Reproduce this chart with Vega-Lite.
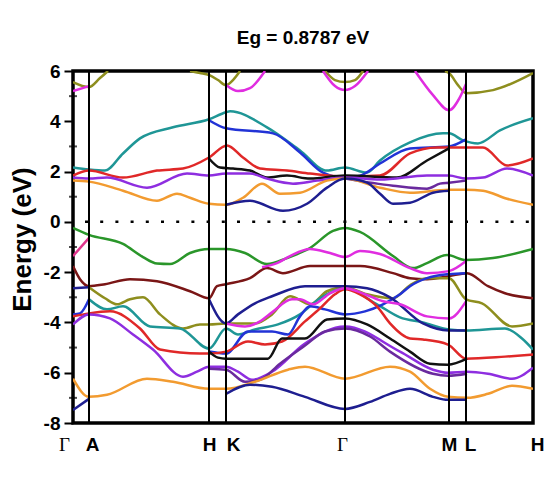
{
"$schema": "https://vega.github.io/schema/vega-lite/v6.json",
"width": 460, "height": 352,
"autosize": {"type": "none"},
"padding": {"left": 73, "top": 71, "right": 21, "bottom": 57},
"background": "white",
"config": {"view": {"stroke": "black", "strokeWidth": 3.5}, "font": "Liberation Sans"},
"title": {"text": "Eg = 0.8787 eV", "fontSize": 19, "fontWeight": "bold", "font": "Liberation Sans", "color": "black", "anchor": "middle", "offset": 14},
"datasets": {
"bands": [
{"b":"ct","h":"teal","k":0,"e":2.16},{"b":"ct","h":"teal","k":16,"e":2.08},{"b":"ct","h":"teal","k":32,"e":2.04},{"b":"ct","h":"teal","k":50,"e":2.72},{"b":"ct","h":"teal","k":67,"e":3.32},{"b":"ct","h":"teal","k":100,"e":3.76},{"b":"ct","h":"teal","k":136,"e":4.08},{"b":"ct","h":"teal","k":153,"e":4.36},{"b":"ct","h":"teal","k":157,"e":4.4},{"b":"ct","h":"teal","k":194,"e":3.76},{"b":"ct","h":"teal","k":227,"e":2.84},{"b":"ct","h":"teal","k":254,"e":2.04},{"b":"ct","h":"teal","k":272,"e":2.16},{"b":"ct","h":"teal","k":294,"e":1.96},{"b":"ct","h":"teal","k":307,"e":2.44},{"b":"ct","h":"teal","k":337,"e":3.16},{"b":"ct","h":"teal","k":370,"e":3.52},{"b":"ct","h":"teal","k":376,"e":3.52},{"b":"ct","h":"teal","k":390,"e":3.24},{"b":"ct","h":"teal","k":405,"e":3.12},{"b":"ct","h":"teal","k":427,"e":3.64},{"b":"ct","h":"teal","k":460,"e":4.12},
{"b":"cb","h":"blue","k":136,"e":4.04},{"b":"cb","h":"blue","k":153,"e":3.72},{"b":"cb","h":"blue","k":200,"e":3.52},{"b":"cb","h":"blue","k":227,"e":2.76},{"b":"cb","h":"blue","k":250,"e":1.96},{"b":"cb","h":"blue","k":272,"e":1.76},{"b":"cb","h":"blue","k":287,"e":1.84},{"b":"cb","h":"blue","k":307,"e":2.32},{"b":"cb","h":"blue","k":337,"e":2.92},{"b":"cb","h":"blue","k":376,"e":3.0},{"b":"cb","h":"blue","k":393,"e":3.28},
{"b":"cr","h":"red","k":0,"e":1.84},{"b":"cr","h":"red","k":16,"e":2.04},{"b":"cr","h":"red","k":50,"e":1.76},{"b":"cr","h":"red","k":84,"e":2.04},{"b":"cr","h":"red","k":110,"e":2.12},{"b":"cr","h":"red","k":136,"e":2.56},{"b":"cr","h":"red","k":154,"e":3.04},{"b":"cr","h":"red","k":170,"e":2.56},{"b":"cr","h":"red","k":187,"e":2.12},{"b":"cr","h":"red","k":214,"e":2.04},{"b":"cr","h":"red","k":237,"e":1.92},{"b":"cr","h":"red","k":272,"e":1.8},{"b":"cr","h":"red","k":307,"e":1.84},{"b":"cr","h":"red","k":337,"e":2.72},{"b":"cr","h":"red","k":364,"e":2.96},{"b":"cr","h":"red","k":376,"e":2.96},{"b":"cr","h":"red","k":393,"e":2.96},{"b":"cr","h":"red","k":410,"e":2.96},{"b":"cr","h":"red","k":434,"e":2.24},{"b":"cr","h":"red","k":460,"e":2.52},
{"b":"ck","h":"black","k":136,"e":2.52},{"b":"ck","h":"black","k":147,"e":2.16},{"b":"ck","h":"black","k":160,"e":2.12},{"b":"ck","h":"black","k":177,"e":2.04},{"b":"ck","h":"black","k":194,"e":1.76},{"b":"ck","h":"black","k":214,"e":1.84},{"b":"ck","h":"black","k":237,"e":1.72},{"b":"ck","h":"black","k":272,"e":1.84},{"b":"ck","h":"black","k":324,"e":1.76},{"b":"ck","h":"black","k":354,"e":2.44},{"b":"ck","h":"black","k":376,"e":2.92},
{"b":"cp","h":"purple","k":0,"e":1.76},{"b":"cp","h":"purple","k":16,"e":1.72},{"b":"cp","h":"purple","k":34,"e":1.76},{"b":"cp","h":"purple","k":74,"e":1.36},{"b":"cp","h":"purple","k":114,"e":1.92},{"b":"cp","h":"purple","k":136,"e":1.84},{"b":"cp","h":"purple","k":153,"e":1.92},{"b":"cp","h":"purple","k":177,"e":1.92},{"b":"cp","h":"purple","k":194,"e":1.72},{"b":"cp","h":"purple","k":220,"e":1.52},{"b":"cp","h":"purple","k":244,"e":1.64},{"b":"cp","h":"purple","k":272,"e":1.76},{"b":"cp","h":"purple","k":307,"e":1.68},{"b":"cp","h":"purple","k":354,"e":1.84},{"b":"cp","h":"purple","k":376,"e":1.84},{"b":"cp","h":"purple","k":393,"e":1.72},{"b":"cp","h":"purple","k":410,"e":1.76},{"b":"cp","h":"purple","k":434,"e":2.12},{"b":"cp","h":"purple","k":460,"e":1.84},
{"b":"cdp","h":"dpurple","k":272,"e":1.72},{"b":"cdp","h":"dpurple","k":320,"e":1.44},{"b":"cdp","h":"dpurple","k":354,"e":1.32},{"b":"cdp","h":"dpurple","k":367,"e":1.52},{"b":"cdp","h":"dpurple","k":376,"e":1.56},{"b":"cdp","h":"dpurple","k":393,"e":1.64},
{"b":"co","h":"orange","k":0,"e":1.64},{"b":"co","h":"orange","k":16,"e":1.6},{"b":"co","h":"orange","k":50,"e":1.24},{"b":"co","h":"orange","k":84,"e":0.84},{"b":"co","h":"orange","k":104,"e":1.12},{"b":"co","h":"orange","k":117,"e":0.96},{"b":"co","h":"orange","k":136,"e":0.72},{"b":"co","h":"orange","k":153,"e":0.68},{"b":"co","h":"orange","k":170,"e":0.96},{"b":"co","h":"orange","k":189,"e":1.52},{"b":"co","h":"orange","k":207,"e":1.12},{"b":"co","h":"orange","k":227,"e":1.16},{"b":"co","h":"orange","k":254,"e":1.64},{"b":"co","h":"orange","k":272,"e":1.72},{"b":"co","h":"orange","k":307,"e":1.36},{"b":"co","h":"orange","k":337,"e":1.16},{"b":"co","h":"orange","k":376,"e":1.28},{"b":"co","h":"orange","k":393,"e":1.28},{"b":"co","h":"orange","k":410,"e":1.24},{"b":"co","h":"orange","k":434,"e":0.92},{"b":"co","h":"orange","k":460,"e":0.68},
{"b":"cn","h":"navy","k":153,"e":0.68},{"b":"cn","h":"navy","k":177,"e":0.84},{"b":"cn","h":"navy","k":210,"e":0.44},{"b":"cn","h":"navy","k":234,"e":0.72},{"b":"cn","h":"navy","k":254,"e":1.36},{"b":"cn","h":"navy","k":272,"e":1.72},{"b":"cn","h":"navy","k":294,"e":1.56},{"b":"cn","h":"navy","k":307,"e":1.12},{"b":"cn","h":"navy","k":320,"e":0.72},{"b":"cn","h":"navy","k":337,"e":0.76},{"b":"cn","h":"navy","k":360,"e":1.16},{"b":"cn","h":"navy","k":376,"e":1.24},
{"b":"col1","h":"olive","k":0,"e":5.56},{"b":"col1","h":"olive","k":16,"e":5.36},{"b":"col1","h":"olive","k":27,"e":5.72},{"b":"col1","h":"olive","k":35,"e":6.0},
{"b":"col2","h":"olive","k":117,"e":6.0},{"b":"col2","h":"olive","k":127,"e":5.92},{"b":"col2","h":"olive","k":136,"e":5.84},{"b":"col2","h":"olive","k":145,"e":5.64},{"b":"col2","h":"olive","k":153,"e":5.44},{"b":"col2","h":"olive","k":160,"e":5.64},{"b":"col2","h":"olive","k":167,"e":6.0},
{"b":"col3","h":"olive","k":252,"e":6.0},{"b":"col3","h":"olive","k":262,"e":5.64},{"b":"col3","h":"olive","k":272,"e":5.56},{"b":"col3","h":"olive","k":282,"e":5.64},{"b":"col3","h":"olive","k":290,"e":6.0},
{"b":"col4","h":"olive","k":372,"e":6.0},{"b":"col4","h":"olive","k":376,"e":5.92},{"b":"col4","h":"olive","k":385,"e":5.44},{"b":"col4","h":"olive","k":393,"e":5.12},{"b":"col4","h":"olive","k":420,"e":5.24},{"b":"col4","h":"olive","k":460,"e":5.92},
{"b":"cm1","h":"magenta","k":0,"e":5.2},{"b":"cm1","h":"magenta","k":16,"e":5.4},
{"b":"cm2","h":"magenta","k":153,"e":5.44},{"b":"cm2","h":"magenta","k":165,"e":5.2},{"b":"cm2","h":"magenta","k":177,"e":5.32},{"b":"cm2","h":"magenta","k":192,"e":6.0},
{"b":"cm3","h":"magenta","k":250,"e":6.0},{"b":"cm3","h":"magenta","k":262,"e":5.4},{"b":"cm3","h":"magenta","k":272,"e":5.24},{"b":"cm3","h":"magenta","k":282,"e":5.4},{"b":"cm3","h":"magenta","k":295,"e":6.0},
{"b":"cm4","h":"magenta","k":342,"e":6.0},{"b":"cm4","h":"magenta","k":360,"e":5.04},{"b":"cm4","h":"magenta","k":376,"e":4.44},{"b":"cm4","h":"magenta","k":387,"e":4.96},{"b":"cm4","h":"magenta","k":393,"e":5.48},
{"b":"vg","h":"green","k":0,"e":-0.24},{"b":"vg","h":"green","k":16,"e":-0.52},{"b":"vg","h":"green","k":50,"e":-0.88},{"b":"vg","h":"green","k":70,"e":-1.4},{"b":"vg","h":"green","k":84,"e":-1.66},{"b":"vg","h":"green","k":97,"e":-1.68},{"b":"vg","h":"green","k":117,"e":-1.24},{"b":"vg","h":"green","k":136,"e":-1.08},{"b":"vg","h":"green","k":153,"e":-1.08},{"b":"vg","h":"green","k":172,"e":-1.24},{"b":"vg","h":"green","k":194,"e":-1.68},{"b":"vg","h":"green","k":214,"e":-1.44},{"b":"vg","h":"green","k":237,"e":-1.04},{"b":"vg","h":"green","k":260,"e":-0.36},{"b":"vg","h":"green","k":272,"e":-0.24},{"b":"vg","h":"green","k":287,"e":-0.4},{"b":"vg","h":"green","k":320,"e":-1.36},{"b":"vg","h":"green","k":340,"e":-1.84},{"b":"vg","h":"green","k":354,"e":-1.64},{"b":"vg","h":"green","k":374,"e":-1.32},{"b":"vg","h":"green","k":393,"e":-1.52},{"b":"vg","h":"green","k":420,"e":-1.44},{"b":"vg","h":"green","k":460,"e":-1.08},
{"b":"vpk","h":"pink","k":0,"e":-1.36},{"b":"vpk","h":"pink","k":16,"e":-0.64},
{"b":"vbr","h":"brown","k":0,"e":-1.76},{"b":"vbr","h":"brown","k":7,"e":-2.28},{"b":"vbr","h":"brown","k":16,"e":-2.56},{"b":"vbr","h":"brown","k":32,"e":-2.48},{"b":"vbr","h":"brown","k":57,"e":-2.28},{"b":"vbr","h":"brown","k":84,"e":-2.36},{"b":"vbr","h":"brown","k":117,"e":-2.76},{"b":"vbr","h":"brown","k":136,"e":-3.04},{"b":"vbr","h":"brown","k":144,"e":-2.56},{"b":"vbr","h":"brown","k":153,"e":-2.48},{"b":"vbr","h":"brown","k":177,"e":-2.24},{"b":"vbr","h":"brown","k":194,"e":-1.84},{"b":"vbr","h":"brown","k":210,"e":-2.04},{"b":"vbr","h":"brown","k":237,"e":-1.76},{"b":"vbr","h":"brown","k":272,"e":-1.76},{"b":"vbr","h":"brown","k":287,"e":-1.76},{"b":"vbr","h":"brown","k":320,"e":-2.04},{"b":"vbr","h":"brown","k":337,"e":-2.24},{"b":"vbr","h":"brown","k":354,"e":-2.28},{"b":"vbr","h":"brown","k":376,"e":-2.16},{"b":"vbr","h":"brown","k":394,"e":-2.04},{"b":"vbr","h":"brown","k":415,"e":-2.56},{"b":"vbr","h":"brown","k":432,"e":-2.84},{"b":"vbr","h":"brown","k":460,"e":-3.04},
{"b":"vm","h":"magenta","k":189,"e":-1.8},{"b":"vm","h":"magenta","k":204,"e":-1.64},{"b":"vm","h":"magenta","k":217,"e":-1.36},{"b":"vm","h":"magenta","k":237,"e":-1.08},{"b":"vm","h":"magenta","k":257,"e":-1.24},{"b":"vm","h":"magenta","k":272,"e":-1.4},{"b":"vm","h":"magenta","k":287,"e":-1.16},{"b":"vm","h":"magenta","k":307,"e":-1.28},{"b":"vm","h":"magenta","k":337,"e":-1.84},{"b":"vm","h":"magenta","k":354,"e":-2.04},{"b":"vm","h":"magenta","k":376,"e":-1.96},{"b":"vm","h":"magenta","k":393,"e":-1.56},
{"b":"vnga","h":"navy","k":0,"e":-2.64},{"b":"vnga","h":"navy","k":16,"e":-2.6},
{"b":"vo","h":"olive","k":16,"e":-2.6},{"b":"vo","h":"olive","k":32,"e":-3.04},{"b":"vo","h":"olive","k":44,"e":-3.28},{"b":"vo","h":"olive","k":57,"e":-3.08},{"b":"vo","h":"olive","k":70,"e":-3.0},{"b":"vo","h":"olive","k":87,"e":-3.68},{"b":"vo","h":"olive","k":110,"e":-4.24},{"b":"vo","h":"olive","k":127,"e":-4.08},{"b":"vo","h":"olive","k":136,"e":-4.08},{"b":"vo","h":"olive","k":153,"e":-4.04},{"b":"vo","h":"olive","k":182,"e":-4.04},{"b":"vo","h":"olive","k":199,"e":-3.68},{"b":"vo","h":"olive","k":217,"e":-2.96},{"b":"vo","h":"olive","k":237,"e":-3.28},{"b":"vo","h":"olive","k":254,"e":-2.76},{"b":"vo","h":"olive","k":272,"e":-2.6},{"b":"vo","h":"olive","k":294,"e":-2.88},{"b":"vo","h":"olive","k":320,"e":-3.04},{"b":"vo","h":"olive","k":337,"e":-2.52},{"b":"vo","h":"olive","k":354,"e":-2.24},{"b":"vo","h":"olive","k":376,"e":-2.24},{"b":"vo","h":"olive","k":393,"e":-3.08},{"b":"vo","h":"olive","k":409,"e":-3.24},{"b":"vo","h":"olive","k":439,"e":-4.16},{"b":"vo","h":"olive","k":460,"e":-4.04},
{"b":"vt","h":"teal","k":16,"e":-3.08},{"b":"vt","h":"teal","k":34,"e":-3.48},{"b":"vt","h":"teal","k":50,"e":-3.36},{"b":"vt","h":"teal","k":77,"e":-4.16},{"b":"vt","h":"teal","k":107,"e":-4.24},{"b":"vt","h":"teal","k":136,"e":-5.04},{"b":"vt","h":"teal","k":153,"e":-4.24},{"b":"vt","h":"teal","k":165,"e":-4.48},{"b":"vt","h":"teal","k":182,"e":-4.28},{"b":"vt","h":"teal","k":205,"e":-4.08},{"b":"vt","h":"teal","k":227,"e":-3.68},{"b":"vt","h":"teal","k":247,"e":-3.04},{"b":"vt","h":"teal","k":272,"e":-2.64},{"b":"vt","h":"teal","k":304,"e":-3.28},{"b":"vt","h":"teal","k":327,"e":-3.8},{"b":"vt","h":"teal","k":350,"e":-4.0},{"b":"vt","h":"teal","k":376,"e":-4.28},{"b":"vt","h":"teal","k":393,"e":-4.32},{"b":"vt","h":"teal","k":432,"e":-4.24},{"b":"vt","h":"teal","k":449,"e":-4.64},{"b":"vt","h":"teal","k":460,"e":-5.08},
{"b":"vbga","h":"blue","k":0,"e":-3.68},{"b":"vbga","h":"blue","k":7,"e":-3.64},{"b":"vbga","h":"blue","k":16,"e":-3.08},
{"b":"vb","h":"blue","k":136,"e":-5.16},{"b":"vb","h":"blue","k":153,"e":-5.24},{"b":"vb","h":"blue","k":175,"e":-4.36},{"b":"vb","h":"blue","k":199,"e":-4.36},{"b":"vb","h":"blue","k":215,"e":-4.48},{"b":"vb","h":"blue","k":227,"e":-3.76},{"b":"vb","h":"blue","k":237,"e":-3.36},{"b":"vb","h":"blue","k":252,"e":-3.48},{"b":"vb","h":"blue","k":272,"e":-3.68},{"b":"vb","h":"blue","k":292,"e":-3.56},{"b":"vb","h":"blue","k":310,"e":-3.28},{"b":"vb","h":"blue","k":327,"e":-2.88},{"b":"vb","h":"blue","k":337,"e":-2.56},{"b":"vb","h":"blue","k":354,"e":-2.24},{"b":"vb","h":"blue","k":376,"e":-2.08},{"b":"vb","h":"blue","k":393,"e":-2.04},
{"b":"vn","h":"navy","k":136,"e":-3.08},{"b":"vn","h":"navy","k":153,"e":-4.04},{"b":"vn","h":"navy","k":165,"e":-3.68},{"b":"vn","h":"navy","k":182,"e":-3.24},{"b":"vn","h":"navy","k":199,"e":-2.96},{"b":"vn","h":"navy","k":232,"e":-2.56},{"b":"vn","h":"navy","k":272,"e":-2.56},{"b":"vn","h":"navy","k":294,"e":-2.64},{"b":"vn","h":"navy","k":317,"e":-3.0},{"b":"vn","h":"navy","k":350,"e":-4.04},{"b":"vn","h":"navy","k":376,"e":-4.32},{"b":"vn","h":"navy","k":393,"e":-4.32},
{"b":"vr","h":"red","k":0,"e":-3.76},{"b":"vr","h":"red","k":16,"e":-3.64},{"b":"vr","h":"red","k":37,"e":-3.56},{"b":"vr","h":"red","k":67,"e":-4.24},{"b":"vr","h":"red","k":87,"e":-5.08},{"b":"vr","h":"red","k":127,"e":-5.24},{"b":"vr","h":"red","k":136,"e":-5.24},{"b":"vr","h":"red","k":153,"e":-5.16},{"b":"vr","h":"red","k":175,"e":-4.76},{"b":"vr","h":"red","k":192,"e":-4.88},{"b":"vr","h":"red","k":209,"e":-4.76},{"b":"vr","h":"red","k":232,"e":-3.96},{"b":"vr","h":"red","k":247,"e":-3.44},{"b":"vr","h":"red","k":262,"e":-2.88},{"b":"vr","h":"red","k":272,"e":-2.68},{"b":"vr","h":"red","k":287,"e":-2.88},{"b":"vr","h":"red","k":304,"e":-3.36},{"b":"vr","h":"red","k":317,"e":-4.04},{"b":"vr","h":"red","k":337,"e":-4.64},{"b":"vr","h":"red","k":350,"e":-4.68},{"b":"vr","h":"red","k":375,"e":-4.88},{"b":"vr","h":"red","k":393,"e":-5.44},{"b":"vr","h":"red","k":432,"e":-5.36},{"b":"vr","h":"red","k":460,"e":-5.28},
{"b":"vk","h":"black","k":136,"e":-5.16},{"b":"vk","h":"black","k":145,"e":-5.4},{"b":"vk","h":"black","k":153,"e":-5.44},{"b":"vk","h":"black","k":195,"e":-5.44},{"b":"vk","h":"black","k":209,"e":-4.64},{"b":"vk","h":"black","k":232,"e":-4.64},{"b":"vk","h":"black","k":254,"e":-3.88},{"b":"vk","h":"black","k":272,"e":-3.84},{"b":"vk","h":"black","k":294,"e":-4.08},{"b":"vk","h":"black","k":317,"e":-4.64},{"b":"vk","h":"black","k":337,"e":-5.16},{"b":"vk","h":"black","k":357,"e":-5.64},{"b":"vk","h":"black","k":375,"e":-5.68},{"b":"vk","h":"black","k":394,"e":-5.44},
{"b":"vp","h":"purple","k":0,"e":-4.08},{"b":"vp","h":"purple","k":16,"e":-3.68},{"b":"vp","h":"purple","k":37,"e":-3.84},{"b":"vp","h":"purple","k":60,"e":-4.48},{"b":"vp","h":"purple","k":80,"e":-5.08},{"b":"vp","h":"purple","k":110,"e":-6.16},{"b":"vp","h":"purple","k":124,"e":-5.96},{"b":"vp","h":"purple","k":136,"e":-5.76},{"b":"vp","h":"purple","k":153,"e":-5.76},{"b":"vp","h":"purple","k":165,"e":-5.96},{"b":"vp","h":"purple","k":179,"e":-6.28},{"b":"vp","h":"purple","k":199,"e":-5.96},{"b":"vp","h":"purple","k":232,"e":-4.84},{"b":"vp","h":"purple","k":272,"e":-4.16},{"b":"vp","h":"purple","k":327,"e":-5.16},{"b":"vp","h":"purple","k":360,"e":-5.88},{"b":"vp","h":"purple","k":375,"e":-6.0},{"b":"vp","h":"purple","k":394,"e":-5.96},{"b":"vp","h":"purple","k":415,"e":-6.04},{"b":"vp","h":"purple","k":439,"e":-6.24},{"b":"vp","h":"purple","k":460,"e":-5.8},
{"b":"vdp","h":"dpurple","k":136,"e":-5.84},{"b":"vdp","h":"dpurple","k":153,"e":-5.88},{"b":"vdp","h":"dpurple","k":172,"e":-6.36},{"b":"vdp","h":"dpurple","k":187,"e":-6.28},{"b":"vdp","h":"dpurple","k":207,"e":-5.64},{"b":"vdp","h":"dpurple","k":232,"e":-4.92},{"b":"vdp","h":"dpurple","k":252,"e":-4.36},{"b":"vdp","h":"dpurple","k":272,"e":-4.24},{"b":"vdp","h":"dpurple","k":297,"e":-4.56},{"b":"vdp","h":"dpurple","k":317,"e":-5.16},{"b":"vdp","h":"dpurple","k":360,"e":-6.04},{"b":"vdp","h":"dpurple","k":375,"e":-6.12},{"b":"vdp","h":"dpurple","k":394,"e":-6.04},
{"b":"vor","h":"orange","k":0,"e":-6.24},{"b":"vor","h":"orange","k":16,"e":-6.96},{"b":"vor","h":"orange","k":34,"e":-6.88},{"b":"vor","h":"orange","k":74,"e":-6.24},{"b":"vor","h":"orange","k":100,"e":-6.36},{"b":"vor","h":"orange","k":136,"e":-6.64},{"b":"vor","h":"orange","k":153,"e":-6.64},{"b":"vor","h":"orange","k":182,"e":-6.36},{"b":"vor","h":"orange","k":215,"e":-5.88},{"b":"vor","h":"orange","k":232,"e":-5.76},{"b":"vor","h":"orange","k":272,"e":-6.24},{"b":"vor","h":"orange","k":317,"e":-5.76},{"b":"vor","h":"orange","k":337,"e":-5.96},{"b":"vor","h":"orange","k":357,"e":-6.64},{"b":"vor","h":"orange","k":375,"e":-6.96},{"b":"vor","h":"orange","k":394,"e":-7.0},{"b":"vor","h":"orange","k":415,"e":-6.84},{"b":"vor","h":"orange","k":439,"e":-6.52},{"b":"vor","h":"orange","k":460,"e":-6.64},
{"b":"vnlga","h":"navy","k":0,"e":-7.48},{"b":"vnlga","h":"navy","k":16,"e":-7.04},
{"b":"vnl","h":"navy","k":153,"e":-6.84},{"b":"vnl","h":"navy","k":177,"e":-6.48},{"b":"vnl","h":"navy","k":199,"e":-6.56},{"b":"vnl","h":"navy","k":232,"e":-6.96},{"b":"vnl","h":"navy","k":272,"e":-7.44},{"b":"vnl","h":"navy","k":297,"e":-7.16},{"b":"vnl","h":"navy","k":317,"e":-6.84},{"b":"vnl","h":"navy","k":337,"e":-6.64},{"b":"vnl","h":"navy","k":360,"e":-6.96},{"b":"vnl","h":"navy","k":375,"e":-7.08},{"b":"vnl","h":"navy","k":393,"e":-7.08},
{"b":"vml","h":"magenta","k":153,"e":-4.04},{"b":"vml","h":"magenta","k":172,"e":-4.16},{"b":"vml","h":"magenta","k":187,"e":-3.96},{"b":"vml","h":"magenta","k":199,"e":-3.6},{"b":"vml","h":"magenta","k":219,"e":-3.08},{"b":"vml","h":"magenta","k":227,"e":-3.08},{"b":"vml","h":"magenta","k":240,"e":-3.28},{"b":"vml","h":"magenta","k":257,"e":-2.84},{"b":"vml","h":"magenta","k":272,"e":-2.64},{"b":"vml","h":"magenta","k":292,"e":-2.88},{"b":"vml","h":"magenta","k":310,"e":-3.16},{"b":"vml","h":"magenta","k":327,"e":-3.28},{"b":"vml","h":"magenta","k":354,"e":-3.76},{"b":"vml","h":"magenta","k":376,"e":-3.84},{"b":"vml","h":"magenta","k":393,"e":-3.16}
]
},
"layer": [
{
"data": {"name": "bands"},
"mark": {"type": "line", "strokeWidth": 2.5, "interpolate": "monotone", "clip": true},
"encoding": {
"x": {"field": "k", "type": "quantitative", "title": null, "scale": {"domain": [0, 460], "nice": false, "zero": false},
"axis": {"values": [0, 16, 136, 153, 272, 376, 393, 460],
"labelExpr": "datum.value==0||datum.value==272?'Γ':datum.value==16?'A':datum.value==136||datum.value==460?'H':datum.value==153?'K':datum.value==376?'M':'L'",
"ticks": false, "domain": false, "grid": false,
"labelFontSize": 19, "labelColor": "black", "labelPadding": 12, "labelFlush": false, "labelOverlap": false, "labelBound": false,
"labelFont": {"condition": {"test": "datum.value==0||datum.value==272", "value": "Liberation Serif"}, "value": "Liberation Sans"},
"labelFontWeight": {"condition": {"test": "datum.value==0||datum.value==272", "value": "normal"}, "value": "bold"},
"labelOffset": {"condition": [{"test": "datum.value==0", "value": -9}, {"test": "datum.value==153", "value": 7}, {"test": "datum.value==272", "value": -3}, {"test": "datum.value==393", "value": 4}, {"test": "datum.value==460", "value": 4}, {"test": "datum.value==16", "value": 3}], "value": 0}}},
"y": {"field": "e", "type": "quantitative", "title": "Energy (eV)", "scale": {"domain": [-8, 6], "nice": false, "zero": false},
"axis": {"values": [-8, -6, -4, -2, 0, 2, 4, 6], "labelExpr": "'' + datum.value",
"titleFontSize": 26, "titleFontWeight": "bold", "titleFont": "Liberation Sans", "titleColor": "black",
"titleX": -51, "titleY": 168, "titleAlign": "center", "titleBaseline": "middle",
"labelFontSize": 19, "labelFontWeight": "bold", "labelColor": "black", "labelFont": "Liberation Sans", "labelPadding": 4,
"tickSize": 9, "tickWidth": 2, "tickColor": "black", "domain": false, "grid": false}},
"detail": {"field": "b"},
"color": {"field": "h", "type": "nominal", "legend": null,
"scale": {"domain": ["olive", "magenta", "teal", "blue", "navy", "red", "black", "purple", "dpurple", "orange", "green", "brown", "pink"],
"range": ["#8E8E1E", "#E02DE0", "#1F9696", "#2233D6", "#1E1E90", "#E02828", "#111111", "#8E2EE0", "#6A2A9E", "#F29B30", "#2A962A", "#7A1616", "#E0348C"]}}
}
},
{
"data": {"values": [{"k": 16}, {"k": 136}, {"k": 153}, {"k": 272}, {"k": 376}, {"k": 393}]},
"mark": {"type": "rule", "color": "black", "strokeWidth": 2},
"encoding": {"x": {"field": "k", "type": "quantitative", "title": null}}
},
{
"data": {"values": [{"e": 0}]},
"mark": {"type": "rule", "color": "black", "strokeWidth": 2.5, "strokeDash": [3, 12.2]},
"encoding": {"y": {"field": "e", "type": "quantitative", "title": "Energy (eV)"}, "x": {"datum": 12, "type": "quantitative", "title": null}, "x2": {"datum": 460}}
},
{
"data": {"values": [{"e": -7}, {"e": -5}, {"e": -3}, {"e": -1}, {"e": 1}, {"e": 3}, {"e": 5}]},
"mark": {"type": "tick", "orient": "horizontal", "color": "black", "size": 8, "thickness": 2},
"encoding": {"y": {"field": "e", "type": "quantitative", "title": "Energy (eV)"}, "x": {"datum": 0, "type": "quantitative", "title": null}}
}
]
}
